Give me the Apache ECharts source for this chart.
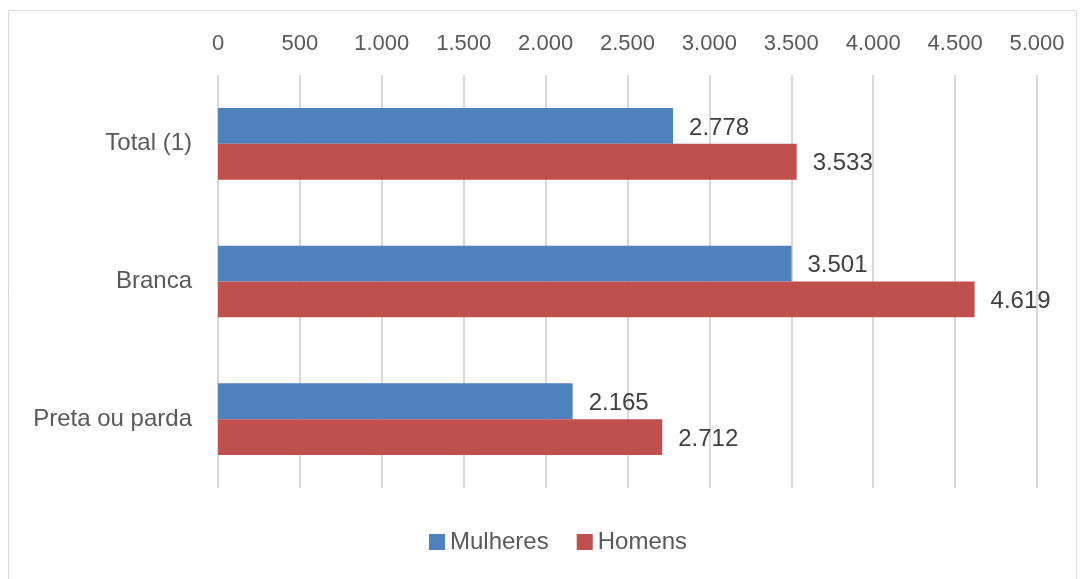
<!DOCTYPE html>
<html>
<head>
<meta charset="utf-8">
<script src="https://cdn.jsdelivr.net/npm/echarts@6/dist/echarts.min.js"></script>
<style>
  html, body { margin: 0; padding: 0; background: #fff; }
  #chart { width: 1084px; height: 579px; }
</style>
</head>
<body>
<div id="chart"></div>
<script>
// dados do gráfico
var categories = ['Total (1)', 'Branca', 'Preta ou parda'];
var mulheres = [2778, 3501, 2165];
var homens = [3533, 4619, 2712];
var seriesNames = ['Mulheres', 'Homens'];

// formato 1.000 (pt-BR)
function fmt(v) {
	return String(Math.round(v)).replace(/\B(?=(\d{3})+(?!\d))/g, '.');
}

var font = 'Liberation Sans';
var myChart = echarts.init(document.getElementById('chart'));
var option = {
	animation: false,
	textStyle: { fontFamily: font },
	graphic: [{
		type: 'rect',
		shape: { x: 8.5, y: 10.5, width: 1068, height: 580 },
		style: { fill: 'none', stroke: '#d9d9d9', lineWidth: 1 },
		silent: true
	}],
	legend: {
		bottom: 20,
		left: 424,
		itemWidth: 16,
		itemHeight: 16,
		itemGap: 28,
		icon: 'rect',
		textStyle: { fontFamily: font, fontSize: 24, color: '#595959' },
		data: seriesNames
	},
	grid: { left: 218, right: 47, top: 75, bottom: 91 },
	xAxis: {
		type: 'value',
		position: 'top',
		min: 0,
		max: 5000,
		interval: 500,
		axisLine: { show: false },
		axisTick: { show: false },
		axisLabel: {
			fontFamily: font, fontSize: 22, color: '#595959', margin: 20,
			formatter: fmt
		},
		splitLine: { lineStyle: { color: '#d9d9d9', width: 2 } }
	},
	yAxis: {
		type: 'category',
		inverse: true,
		data: categories,
		axisLine: { show: false },
		axisTick: { show: false },
		axisLabel: { fontFamily: font, fontSize: 24, color: '#595959', margin: 26 }
	},
	series: [{
		name: seriesNames[0],
		type: 'bar',
		data: mulheres,
		barGap: '0%',
		barCategoryGap: '48%',
		itemStyle: { color: '#4f81bd' },
		label: {
			show: true, position: 'right', distance: 16, offset: [0, 2],
			fontFamily: font, fontSize: 24, color: '#404040',
			formatter: function (p) { return fmt(p.value); }
		}
	}, {
		name: seriesNames[1],
		type: 'bar',
		data: homens,
		barGap: '0%',
		barCategoryGap: '48%',
		itemStyle: { color: '#c0504d' },
		label: {
			show: true, position: 'right', distance: 16, offset: [0, 2],
			fontFamily: font, fontSize: 24, color: '#404040',
			formatter: function (p) { return fmt(p.value); }
		}
	}]
};
myChart.setOption(option);
</script>
</body>
</html>
